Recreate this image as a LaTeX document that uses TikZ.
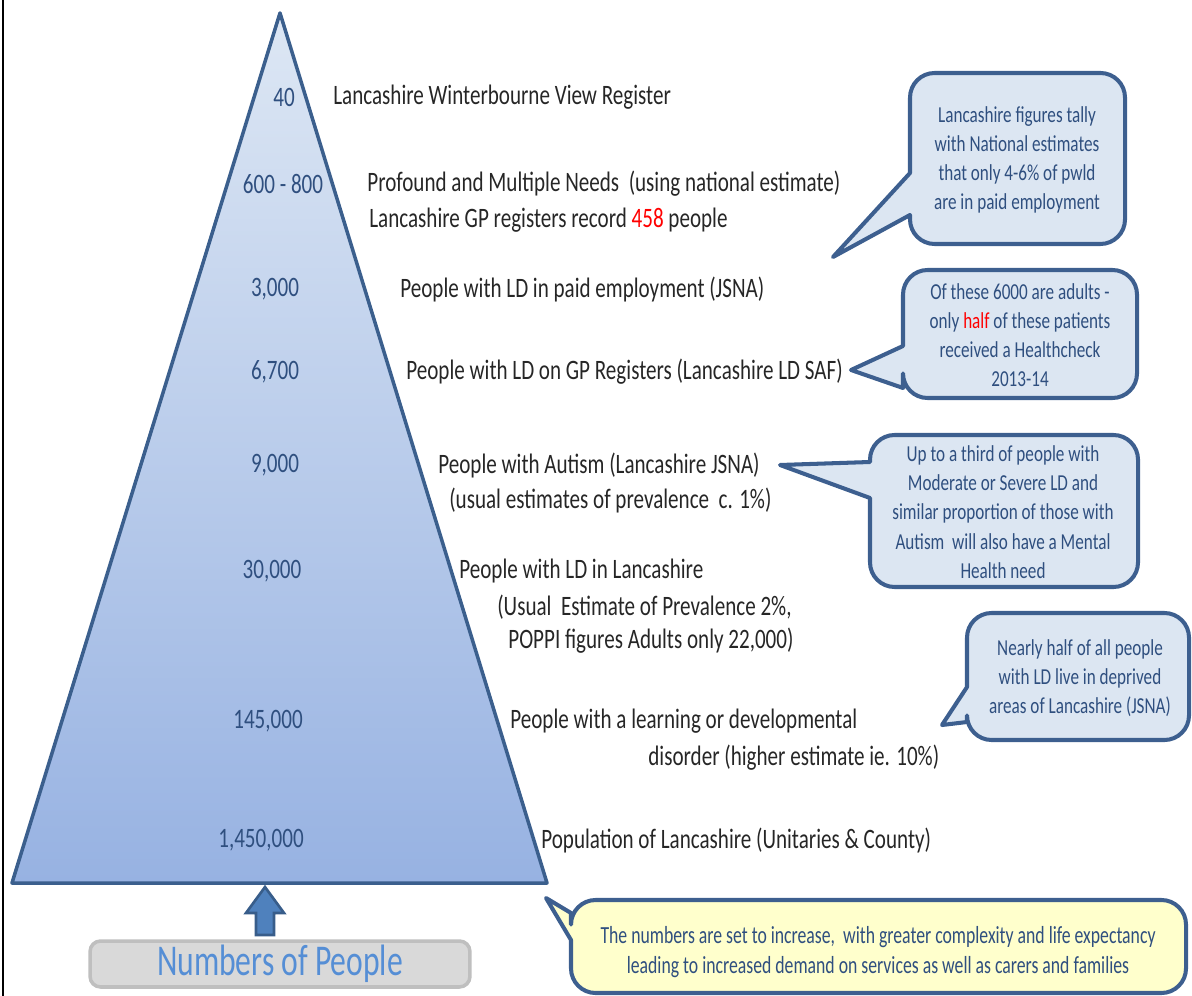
\documentclass[tikz,border=0pt]{standalone}
\usepackage{fontspec}
\setmainfont{Carlito}[FakeStretch=0.75]
\newfontfamily\narrowfont{Carlito}[FakeStretch=0.72]
\usetikzlibrary{positioning}

\definecolor{triedge}{HTML}{3B5F8D}
\definecolor{trilight}{HTML}{DDE7F4}
\definecolor{tridark}{HTML}{97B2E2}
\definecolor{numblue}{HTML}{2F4F7F}
\definecolor{boxfill}{HTML}{DCE6F2}
\definecolor{boxedge}{HTML}{3D5F8F}
\definecolor{notefill}{HTML}{FFFFCC}
\definecolor{arrowfill}{HTML}{4F81BD}
\definecolor{arrowedge}{HTML}{385D8A}
\definecolor{greyfill}{HTML}{D9D9D9}
\definecolor{greyedge}{HTML}{BFBFBF}
\definecolor{labelblue}{HTML}{558ED5}
\definecolor{txt}{HTML}{262626}

\begin{document}
\begin{tikzpicture}[x=0.02cm, y=-0.02cm,
    lbl/.style={anchor=west, inner sep=0pt, text=txt, font=\fontsize{16}{19}\selectfont},
    num/.style={inner sep=0pt, text=numblue, font=\fontsize{16}{19}\selectfont},
    note/.style={fill=boxfill, draw=boxedge, line width=2.3pt, line join=round},
    notetext/.style={align=center, inner sep=0pt, text=numblue, font=\fontsize{13}{16.6}\selectfont}]

    \useasboundingbox (0,0) rectangle (1192,996);
    \draw[line width=0.8pt] (3,0) -- (3,996);

    % the pyramid
    \coordinate (apex) at (280,13);
    \coordinate (baseL) at (12,883);
    \coordinate (baseR) at (547,883);
    \shade[top color=trilight, bottom color=tridark] (apex) -- (baseR) -- (baseL) -- cycle;
    \draw[triedge, line width=2pt, line join=round] (apex) -- (baseR) -- (baseL) -- cycle;

    % numbers inside the pyramid
    \node[num] at (284,97) (n40) {40};
    \node[num] at (283,184) (n600) {600 - 800};
    \node[num] at (275,289) (n3k) {3,000};
    \node[num] at (275,372) (n6k) {6,700};
    \node[num] at (275,465) (n9k) {9,000};
    \node[num] at (272,571) (n30k) {30,000};
    \node[num] at (268,721) (n145k) {145,000};
    \node[num] at (261,840) (n1m) {1,450,000};

    % descriptions
    \node[lbl] at (333,97) (d40) {Lancashire Winterbourne View Register};
    \node[lbl] at (367,184) (d600) {Profound and Multiple Needs\ \ (using national estimate)};
    \node[lbl] at (369,220) (d600b) {Lancashire GP registers record {\color{red}458} people};
    \node[lbl] at (400,289) (d3k) {People with LD in paid employment (JSNA)};
    \node[lbl] at (406,372) (d6k) {People with LD on GP Registers (Lancashire LD SAF)};
    \node[lbl] at (438,465) (d9k) {People with Autism (Lancashire JSNA)};
    \node[lbl] at (449,500) (d9kb) {(usual estimates of prevalence\ \ c. 1\%)};
    \node[lbl] at (459,571) (d30k) {People with LD in Lancashire};
    \node[lbl] at (497,607) (d30kb) {(Usual\ \ Estimate of Prevalence 2\%,};
    \node[lbl] at (508,641) (d30kc) {POPPI figures Adults only 22,000)};
    \node[lbl] at (510,721) (d145k) {People with a learning or developmental};
    \node[lbl] at (648,758) (d145kb) {disorder (higher estimate ie. 10\%)};
    \node[lbl] at (541,840) (d1m) {Population of Lancashire (Unitaries \& County)};

    % callouts
    \draw[note] (833,257) -- (910,215) [rounded corners=14] -- (910,244) -- (1125,244) -- (1125,73) -- (910,73) [sharp corners] -- (910,173) -- cycle;
    \node[notetext] at (1017,160) (tally) {Lancashire figures tally\\with National estimates\\that only 4-6\% of pwld\\are in paid employment};

    \draw[note] (851,370) -- (903,388) [rounded corners=14] -- (903,398) -- (1137,398) -- (1137,270) -- (903,270) [sharp corners] -- (903,346) -- cycle;
    \node[notetext] at (1020,335) (health) {Of these 6000 are adults -\\only {\color{red}half} of these patients\\received a Healthcheck\\2013-14};

    \draw[note] (780,465) -- (870,498) [rounded corners=14] -- (870,587) -- (1138,587) -- (1138,435) -- (870,435) [sharp corners] -- (870,462) -- cycle;
    \node[notetext] at (1003,512) (mental) {Up to a third of people with\\Moderate or Severe LD and\\similar proportion of those with\\Autism\ \ will also have a Mental\\Health need};

    \draw[note] (942,725) -- (967,722) [rounded corners=14] -- (967,740) -- (1189,740) -- (1189,613) -- (967,613) [sharp corners] -- (967,687) -- cycle;
    \node[notetext] at (1080,678) (deprived) {Nearly half of all people\\with LD live in deprived\\areas of Lancashire (JSNA)};

    \draw[note, fill=notefill] (546,898) -- (571,940) [rounded corners=14] -- (571,993) -- (1186,993) -- (1186,900) -- (571,900) [sharp corners] -- (571,913) -- cycle;
    \node[notetext, font=\narrowfont\fontsize{14}{17.2}\selectfont] at (878,952) (increase) {The numbers are set to increase,\ \ with greater complexity and life expectancy\\leading to increased demand on services as well as carers and families};

    % label under the pyramid
    \node[draw=greyedge, fill=greyfill, line width=2pt, rounded corners=6pt, minimum width=7.6cm, minimum height=0.92cm, inner sep=0pt, text=labelblue, font=\narrowfont\fontsize{25}{30}\selectfont] at (280,964) (people) {Numbers of People};
    \draw[fill=arrowfill, draw=arrowedge, line width=1.5pt, line join=miter] (265,887) -- (284,913) -- (274,913) -- (274,935) -- (256,935) -- (256,913) -- (246,913) -- cycle;
\end{tikzpicture}
\end{document}
